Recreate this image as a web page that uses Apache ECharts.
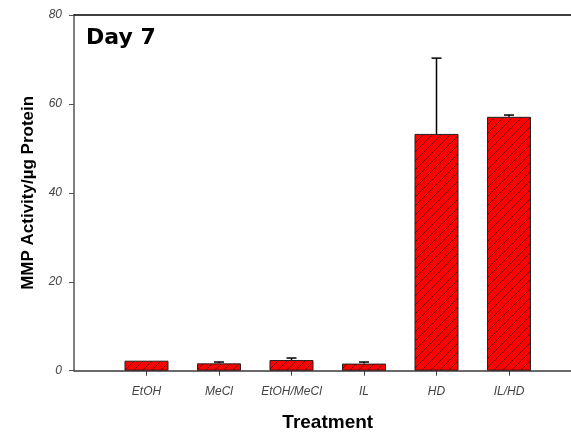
<!DOCTYPE html>
<html>
<head>
<meta charset="utf-8">
<script src="https://cdn.jsdelivr.net/npm/echarts@6/dist/echarts.min.js"></script>
<style>
html,body{margin:0;padding:0;background:#fff;}
#chart{width:571px;height:435px;}
</style>
</head>
<body>
<div id="chart"></div>
<script>
// ---- data ----
var categories = ['EtOH', 'MeCl', 'EtOH/MeCl', 'IL', 'HD', 'IL/HD'];
var means = [2.25, 1.65, 2.4, 1.6, 53.25, 57.1];
var upperErrors = [null, 1.95, 2.85, 1.95, 70.3, 57.5];
var yTicks = [0, 20, 40, 60, 80];
var titleText = 'Day 7';
var xTitle = 'Treatment';
var yTitle = 'MMP Activity/µg Protein';

// padded category axis (empty slot at each end)
var axisCats = [''].concat(categories, ['']);
var barData = ['-'].concat(means, ['-']);
var errData = [];
categories.forEach(function (c, i) {
  if (upperErrors[i] != null) errData.push([i + 1, means[i], upperErrors[i]]);
});

// hatch pattern
var pc = document.createElement('canvas');
pc.width = 9; pc.height = 9;
var g = pc.getContext('2d');
g.fillStyle = '#ff0000';
g.fillRect(0, 0, 9, 9);
g.strokeStyle = '#6a0000';
g.lineWidth = 1;
g.beginPath();
g.moveTo(-1, 10); g.lineTo(10, -1);
g.moveTo(-1, 1); g.lineTo(1, -1);
g.moveTo(8, 10); g.lineTo(10, 8);
g.stroke();

var chart = echarts.init(document.getElementById('chart'), null, {renderer: 'canvas'});
var font = '"Liberation Sans", Arial, sans-serif';
chart.setOption({
  animation: false,
  backgroundColor: '#ffffff',
  grid: {left: 74, top: 15, right: -10.5, bottom: 64.3, containLabel: false, outerBoundsMode: 'none'},
  title: {
    text: titleText, left: 81, top: 22,
    textStyle: {fontFamily: '"DejaVu Sans", sans-serif', fontWeight: 'bold', fontSize: 22, color: '#000'}
  },
  xAxis: [{
    type: 'category',
    data: axisCats,
    boundaryGap: false,
    name: xTitle,
    nameLocation: 'middle',
    nameGap: 43,
    nameTextStyle: {fontFamily: font, fontWeight: 'bold', fontSize: 19, color: '#000'},
    axisLine: {show: true, lineStyle: {color: '#3a3a3a', width: 1.5}},
    axisTick: {show: true, length: 5, lineStyle: {color: '#3a3a3a'},
      interval: function (idx) { return idx > 0 && idx < axisCats.length - 1; }},
    axisLabel: {fontFamily: font, fontStyle: 'italic', fontSize: 12, color: '#444', margin: 15, interval: 0},
    splitLine: {show: false}
  }, {
    type: 'category',
    data: axisCats,
    boundaryGap: false,
    position: 'top',
    axisLine: {show: true, lineStyle: {color: '#000', width: 1.5}},
    axisTick: {show: false},
    axisLabel: {show: false},
    splitLine: {show: false}
  }],
  yAxis: {
    type: 'value',
    min: yTicks[0],
    max: yTicks[yTicks.length - 1],
    interval: 20,
    name: yTitle,
    nameLocation: 'middle',
    nameGap: 37,
    nameTextStyle: {fontFamily: font, fontWeight: 'bold', fontSize: 17, color: '#000'},
    axisLine: {show: true, lineStyle: {color: '#555', width: 1.5}},
    axisTick: {show: true, length: 5, lineStyle: {color: '#555'}},
    axisLabel: {fontFamily: font, fontStyle: 'italic', fontSize: 12, color: '#444', margin: 12},
    splitLine: {show: false}
  },
  series: [{
    type: 'bar',
    data: barData,
    barWidth: 44,
    itemStyle: {color: {image: pc, repeat: 'repeat'}, borderColor: '#222', borderWidth: 1}
  }, {
    type: 'custom',
    data: errData,
    z: 10,
    renderItem: function (params, api) {
      var x = api.value(0);
      var top = api.coord([x, api.value(2)]);
      var base = api.coord([x, api.value(1)]);
      var hw = 5;
      return {
        type: 'group',
        children: [
          {type: 'line', shape: {x1: top[0], y1: base[1], x2: top[0], y2: top[1]}, style: {stroke: '#000', lineWidth: 1.5}},
          {type: 'line', shape: {x1: top[0] - hw, y1: top[1], x2: top[0] + hw, y2: top[1]}, style: {stroke: '#000', lineWidth: 1.5}}
        ]
      };
    }
  }]
});
</script>
</body>
</html>
